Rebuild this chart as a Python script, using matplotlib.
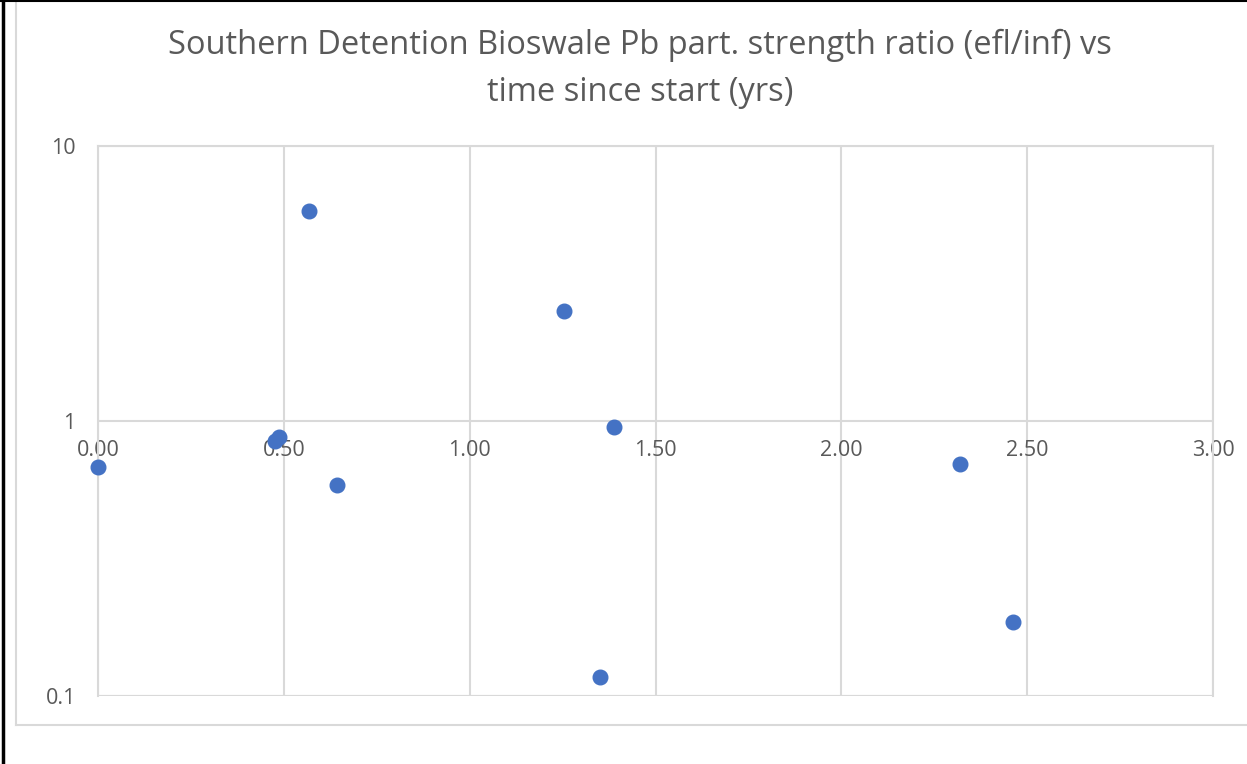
import matplotlib
matplotlib.use("Agg")
import matplotlib.pyplot as plt
from matplotlib.lines import Line2D

# values
years = [0.00, 0.476, 0.487, 0.568, 0.643, 1.254, 1.388, 1.351, 2.319, 2.462]
ratio = [0.68, 0.845, 0.875, 5.8, 0.585, 2.51, 0.95, 0.117, 0.70, 0.186]
x_ticks = [0.0, 0.5, 1.0, 1.5, 2.0, 2.5, 3.0]
y_ticks = [0.1, 1, 10]
y_labels = ["0.1", "1", "10"]
title = "Southern Detention Bioswale Pb part. strength ratio (efl/inf) vs\ntime since start (yrs)"

GRID = "#d9d9d9"
TXT = "#595959"
plt.rcParams['font.family'] = ['Open Sans', 'DejaVu Sans']

W, H = 1247, 764
fig = plt.figure(figsize=(W / 100, H / 100), dpi=100)

# frame lines (figure pixel coords -> fraction)
def px(x, y):
    return x / W, 1 - y / H

fig.add_artist(Line2D(*zip(px(16, 3), px(16, 725)), color=GRID, lw=1.5))
fig.add_artist(Line2D(*zip(px(16, 725), px(W, 725)), color=GRID, lw=1.5))
fig.add_artist(Line2D(*zip(px(3, 0), px(3, H)), color="black", lw=2.5))
fig.add_artist(Line2D(*zip(px(0, 1), px(W, 1)), color="black", lw=1.5))

ax = fig.add_axes([98 / W, 1 - 696 / H, (1213 - 98) / W, (696 - 146) / H])
ax.set_yscale('log')
ax.set_xlim(0, 3)
ax.set_ylim(0.1, 10)

ax.set_xticks(x_ticks)
ax.set_xticklabels([f"{t:.2f}" for t in x_ticks])
ax.set_yticks(y_ticks)
ax.set_yticklabels(y_labels)
ax.yaxis.set_minor_locator(matplotlib.ticker.NullLocator())

ax.grid(True, color=GRID, lw=1.5)
ax.set_axisbelow(True)
for s in ax.spines.values():
    s.set_color(GRID)
    s.set_linewidth(1.5)

# x axis crosses at y = 1, labels sit just under it
ax.spines['bottom'].set_position(('data', 1))
ax.spines['bottom'].set_visible(False)
ax.tick_params(axis='x', length=0, pad=14, labelsize=15.5, labelcolor=TXT)
ax.tick_params(axis='y', length=0, pad=16, labelsize=15.5, labelcolor=TXT)

# redraw bottom border of plot area
ax.axhline(0.1, color=GRID, lw=1.5, zorder=0.5)

ax.plot(years, ratio, 'o', color="#4472C4", markersize=10.5, zorder=3, clip_on=False)

fig.text(0.5135, 1 - 69 / H, title, ha='center', va='center', fontsize=23.5,
         color=TXT, linespacing=1.58)

fig.savefig("out.png", dpi=100)
